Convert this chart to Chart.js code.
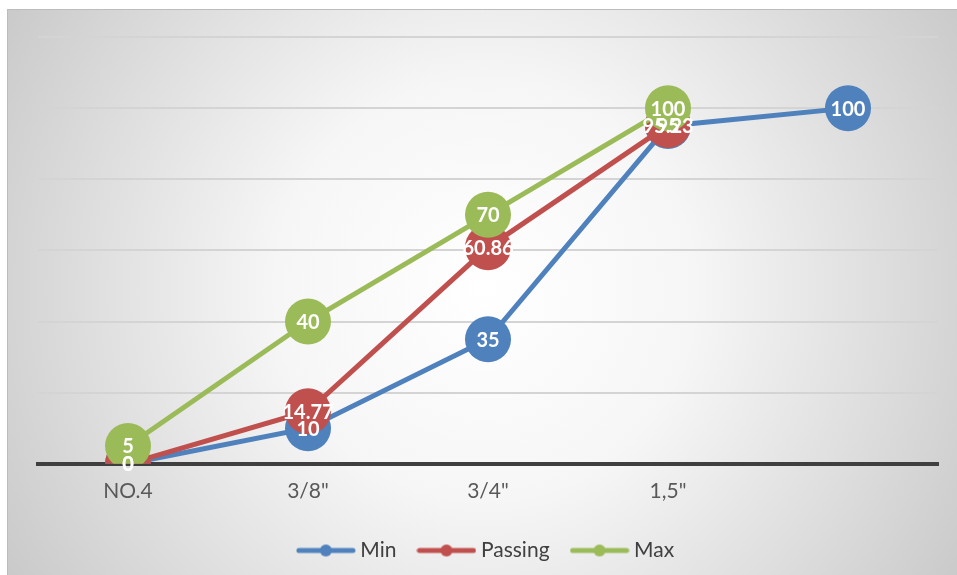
<!DOCTYPE html>
<html>
<head>
<meta charset="utf-8">
<script src="https://cdn.jsdelivr.net/npm/chart.js@4"></script>
<style>
  html, body { margin: 0; padding: 0; background: #ffffff; }
  #wrap { width: 957px; height: 575px; }
</style>
</head>
<body>
<div id="wrap"><canvas id="lineChart" width="957" height="575"></canvas></div>
<script>
const sieves = ["NO.4", "3/8\"", "3/4\"", "1,5\"", ""];
const minValues = [0, 10, 35, 95, 100];
const passingValues = [0, 14.77, 60.86, 95.23, null];
const maxValues = [5, 40, 70, 100, null];
const yTicks = [0, 20, 40, 60, 80, 100, 120];

const BLUE = "#4f81bd";
const RED = "#c0504d";
const GREEN = "#9bbb59";
const FONT = "Lato, 'Liberation Sans', sans-serif";

// line + dot icon used as the legend symbol
function legendIcon(color) {
    const c = document.createElement("canvas");
    c.width = 60;
    c.height = 14;
    const g = c.getContext("2d");
    g.strokeStyle = color;
    g.lineWidth = 5;
    g.lineCap = "round";
    g.beginPath();
    g.moveTo(3, 7);
    g.lineTo(57, 7);
    g.stroke();
    g.fillStyle = color;
    g.beginPath();
    g.arc(30, 7, 6, 0, Math.PI * 2);
    g.fill();
    return c;
}
const icons = [legendIcon(BLUE), legendIcon(RED), legendIcon(GREEN)];

// soft grey frame with a white centre
const backdrop = {
    id: "backdrop",
    beforeDraw(chart) {
        const ctx = chart.ctx;
        const w = chart.width, h = chart.height;
        ctx.save();
        ctx.fillStyle = "#ffffff";
        ctx.fillRect(0, 0, w, h);
        const grad = ctx.createRadialGradient(485, 290, 0, 485, 290, 600);
        grad.addColorStop(0, "#ffffff");
        grad.addColorStop(0.35, "#f6f6f6");
        grad.addColorStop(1, "#c4c4c4");
        ctx.fillStyle = grad;
        ctx.fillRect(7, 9, w - 7, h - 9);
        ctx.strokeStyle = "#bcbcbc";
        ctx.lineWidth = 1;
        ctx.beginPath();
        ctx.moveTo(7.5, h);
        ctx.lineTo(7.5, 9.5);
        ctx.lineTo(w, 9.5);
        ctx.stroke();
        ctx.restore();
    }
};

// white value labels on top of every marker
const valueLabels = {
    id: "valueLabels",
    afterDatasetsDraw(chart) {
        const ctx = chart.ctx;
        ctx.save();
        ctx.fillStyle = "#ffffff";
        ctx.font = "bold 20px " + FONT;
        ctx.textAlign = "center";
        ctx.textBaseline = "middle";
        chart.data.datasets.forEach((ds, i) => {
            const meta = chart.getDatasetMeta(i);
            meta.data.forEach((pt, j) => {
                const v = ds.data[j];
                if (v === null || v === undefined) return;
                ctx.fillText(String(v), pt.x, pt.y + 1);
            });
        });
        ctx.restore();
    }
};

const ctx = document.getElementById("lineChart").getContext("2d");

function series(label, values, color, order) {
    return {
        label: label,
        data: values,
        borderColor: color,
        backgroundColor: color,
        borderWidth: 5,
        pointRadius: 23,
        pointHoverRadius: 23,
        pointBorderWidth: 0,
        order: order
    };
}

new Chart(ctx, {
    type: "line",
    data: {
        labels: sieves,
        datasets: [
            series("Min", minValues, BLUE, 2),
            series("Passing", passingValues, RED, 1),
            series("Max", maxValues, GREEN, 0)
        ]
    },
    options: {
        responsive: false,
        animation: false,
        layout: {
            autoPadding: false,
            padding: { left: 38, right: 19, top: 37, bottom: 4 }
        },
        plugins: {
            tooltip: { enabled: false },
            legend: {
                position: "bottom",
                labels: {
                    usePointStyle: true,
                    pointStyleWidth: 48,
                    padding: 26,
                    color: "#404040",
                    font: { family: FONT, size: 21 },
                    sort: (a, b) => a.datasetIndex - b.datasetIndex,
                    generateLabels(chart) {
                        const items = Chart.defaults.plugins.legend.labels.generateLabels(chart);
                        items.forEach(it => { it.pointStyle = icons[it.datasetIndex]; });
                        return items;
                    }
                }
            }
        },
        scales: {
            x: {
                offset: true,
                grid: { display: false, drawTicks: false },
                border: { display: true, color: "#3f3f3f", width: 4 },
                ticks: {
                    padding: 15,
                    color: "#595959",
                    font: { family: FONT, size: 21 }
                },
                afterFit(scale) {
                    scale.height -= 5;
                }
            },
            y: {
                min: 0,
                max: 120,
                afterBuildTicks(scale) {
                    scale.ticks = yTicks.map(v => ({ value: v }));
                },
                ticks: { display: false },
                border: { display: false },
                grid: {
                    drawTicks: false,
                    lineWidth: 2,
                    color: c => c.tick.value === 0 ? "rgba(0,0,0,0)" : "#d4d4d4"
                }
            }
        }
    },
    plugins: [backdrop, valueLabels]
});
</script>
</body>
</html>
